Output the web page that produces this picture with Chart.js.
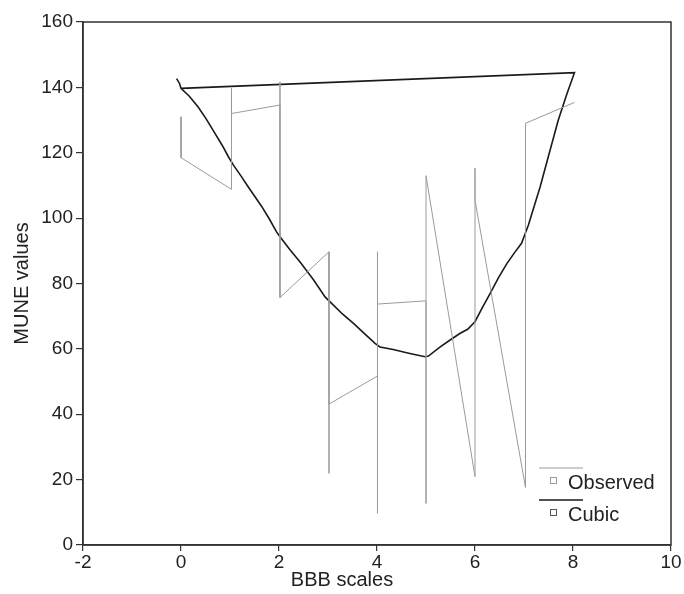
<!DOCTYPE html>
<html>
<head>
<meta charset="utf-8">
<script src="https://cdn.jsdelivr.net/npm/chart.js@4"></script>
<style>
    html, body { margin: 0; padding: 0; background: #fff; }
    #wrap { width: 684px; height: 594px; }
</style>
</head>
<body>
<div id="wrap"><canvas id="chart" width="684" height="594"></canvas></div>
<script>
// Observed MUNE values, in the order they were joined
const obsX = [0, 0, 1.03, 1.03, 1.03, 2.02, 2.02, 2.02, 3.02, 3.02, 3.02, 4.01, 4.01, 4.01, 4.01, 5.0, 5.0, 5.0, 6.0, 6.0, 6.0, 7.03, 7.03, 8.03];
const obsY = [131, 118.5, 108.8, 139.7, 132, 134.6, 141.7, 75.7, 89.7, 21.9, 43.1, 51.7, 9.7, 89.7, 73.7, 74.7, 12.7, 113, 20.9, 115.3, 105.5, 17.6, 129, 135.4];

// Cubic fit (ends with the jump back to x=0)
const cubicX = [-0.09, -0.03, 0, 0.17, 0.35, 0.52, 0.69, 0.84, 0.97, 1.07, 1.22, 1.37, 1.65, 1.8, 1.95, 2.02, 2.22, 2.43, 2.7, 2.94, 3.11, 3.3, 3.52, 3.75, 3.96, 4.06, 4.33, 4.67, 4.98, 5.05, 5.29, 5.5, 5.69, 5.85, 6.0, 6.15, 6.31, 6.48, 6.65, 6.8, 6.95, 7.09, 7.33, 7.5, 7.7, 7.88, 8.03, 0];
const cubicY = [142.7, 141.2, 139.7, 137.3, 134, 130.2, 126, 122.3, 118.7, 116.2, 113, 109.6, 103.5, 99.8, 95.8, 94.3, 90.4, 86.6, 81.2, 75.9, 73.4, 70.6, 67.8, 64.6, 61.7, 60.6, 59.8, 58.6, 57.6, 57.8, 60.6, 62.8, 64.7, 66, 68.3, 72.6, 77, 81.8, 86.1, 89.3, 92.3, 97.9, 109.6, 119, 130, 138.2, 144.5, 139.7];

const xTicks = [-2, 0, 2, 4, 6, 8, 10];
const yTicks = [0, 20, 40, 60, 80, 100, 120, 140, 160];

const FONT = "'Liberation Sans', Arial, sans-serif";
const AXIS = "#333";

const toPoints = (xs, ys) => xs.map((x, i) => ({ x: x, y: ys[i] }));

// frame on top/right, x title centred on page, odd little legend
const extras = {
    id: "extras",
    afterDraw(chart) {
        const { ctx, chartArea: a } = chart;
        ctx.save();
        ctx.strokeStyle = AXIS;
        ctx.lineWidth = 1.5;
        ctx.strokeRect(a.left, a.top, a.right - a.left, a.bottom - a.top);

        ctx.fillStyle = "#222";
        ctx.font = "20px " + FONT;
        ctx.textAlign = "center";
        ctx.textBaseline = "middle";
        ctx.fillText("BBB scales", chart.width / 2, 580);

        // legend
        const sets = chart.data.datasets;
        const lx = a.right - 132;
        const rows = [
            { y: a.bottom - 77, line: "#9a9a9a", box: "#9a9a9a", width: 1 },
            { y: a.bottom - 45, line: "#1a1a1a", box: "#555", width: 1.6 },
        ];
        ctx.textAlign = "left";
        rows.forEach((r, i) => {
            ctx.strokeStyle = r.line;
            ctx.lineWidth = r.width;
            ctx.beginPath();
            ctx.moveTo(lx, r.y);
            ctx.lineTo(lx + 44, r.y);
            ctx.stroke();
            ctx.strokeStyle = r.box;
            ctx.lineWidth = 1;
            ctx.strokeRect(lx + 11.5, r.y + 9.5, 6, 6);
            ctx.fillStyle = "#222";
            ctx.fillText(sets[i].label, lx + 29, r.y + 15);
        });
        ctx.restore();
    },
};

new Chart(document.getElementById("chart"), {
    type: "scatter",
    data: {
        datasets: [
            {
                label: "Observed",
                data: toPoints(obsX, obsY),
                showLine: true,
                borderColor: "#9a9a9a",
                borderWidth: 1,
                pointRadius: 0,
                tension: 0,
            },
            {
                label: "Cubic",
                data: toPoints(cubicX, cubicY),
                showLine: true,
                borderColor: "#1a1a1a",
                borderWidth: 1.6,
                pointRadius: 0,
                tension: 0,
            },
        ],
    },
    options: {
        responsive: false,
        animation: false,
        layout: { padding: { top: 22, right: 13, left: 0, bottom: 0 } },
        plugins: {
            legend: { display: false },
            tooltip: { enabled: false },
        },
        scales: {
            x: {
                type: "linear",
                min: -2,
                max: 10,
                afterBuildTicks: (s) => { s.ticks = xTicks.map((v) => ({ value: v })); },
                afterFit: (s) => { s.height = 49; },
                border: { display: true, color: AXIS, width: 1.5 },
                grid: { display: true, drawOnChartArea: false, drawTicks: true, tickLength: 6, color: AXIS, lineWidth: 1.2 },
                ticks: { color: "#222", font: { family: FONT, size: 19 }, padding: 0, maxRotation: 0 },
            },
            y: {
                type: "linear",
                min: 0,
                max: 160,
                afterBuildTicks: (s) => { s.ticks = yTicks.map((v) => ({ value: v })); },
                afterFit: (s) => { s.width = 83; },
                border: { display: true, color: AXIS, width: 1.5 },
                grid: { display: true, drawOnChartArea: false, drawTicks: true, tickLength: 7, color: AXIS, lineWidth: 1.2 },
                ticks: { color: "#222", font: { family: FONT, size: 19 }, padding: 3 },
                title: { display: true, text: "MUNE values", color: "#222", font: { family: FONT, size: 20 }, padding: { top: 10, bottom: 0 } },
            },
        },
    },
    plugins: [extras],
});
</script>
</body>
</html>
